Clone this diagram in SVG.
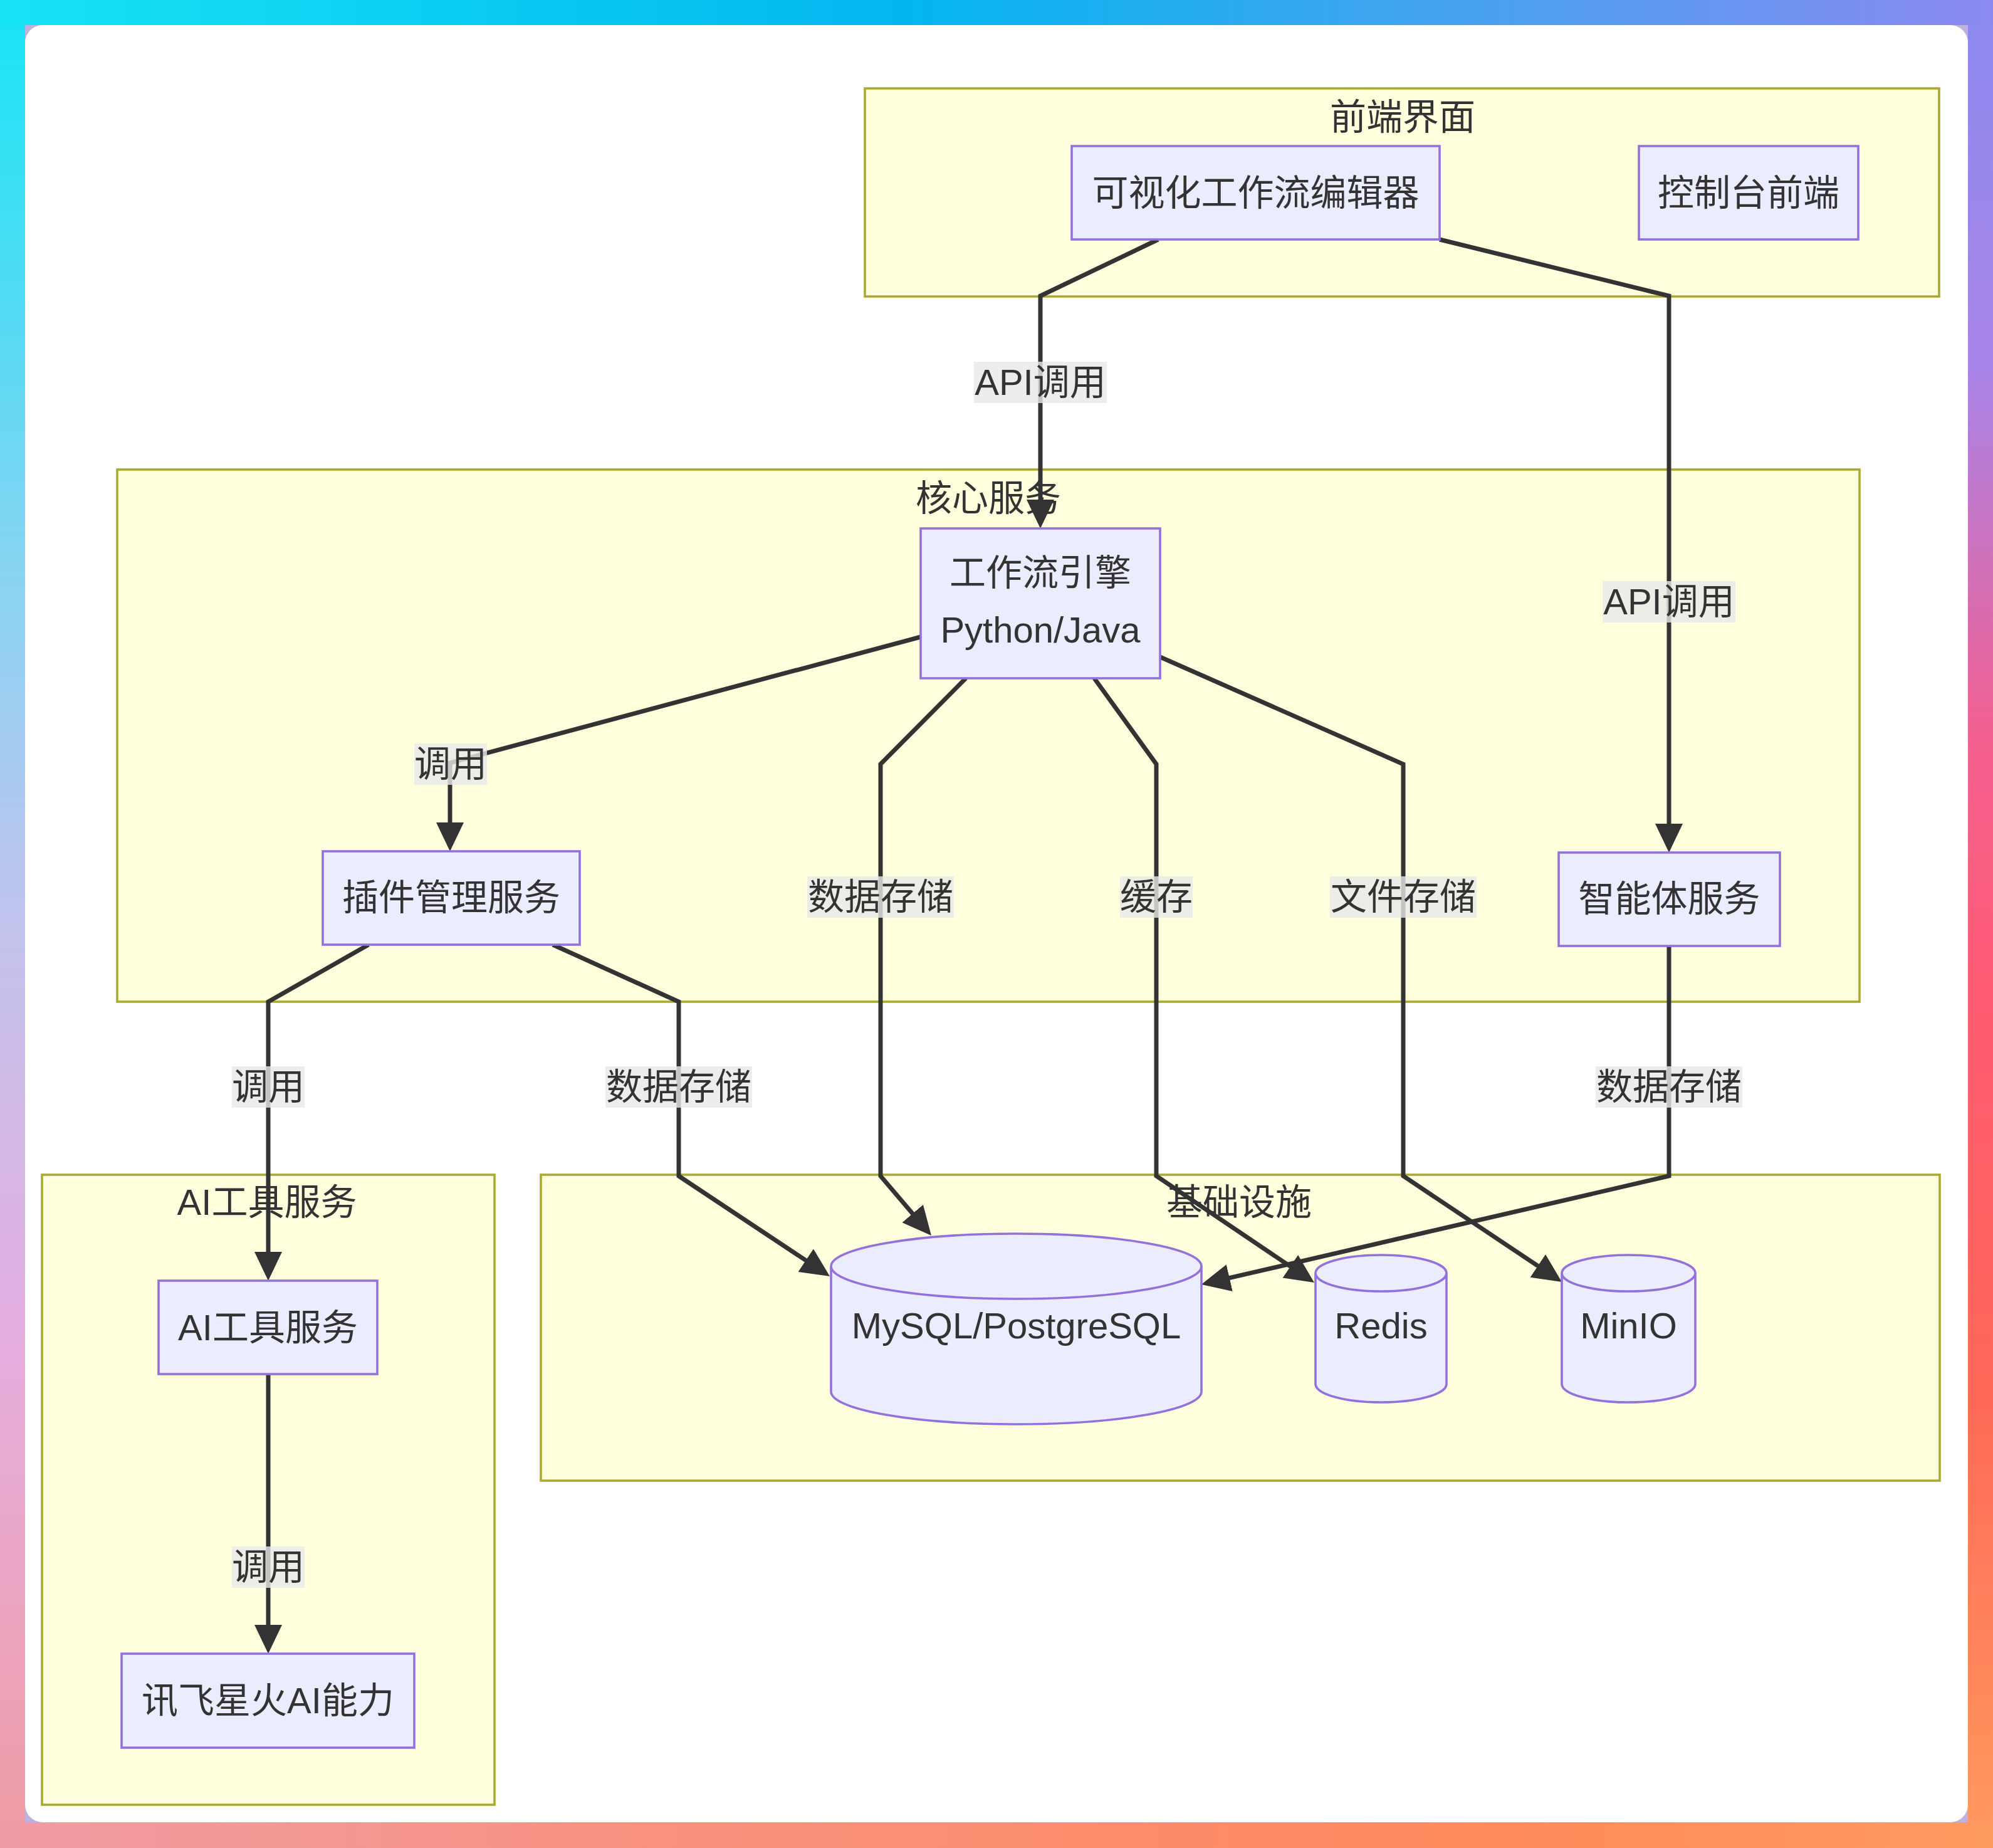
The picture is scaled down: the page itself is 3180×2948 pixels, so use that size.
<svg xmlns="http://www.w3.org/2000/svg" width="3180" height="2948" viewBox="0 0 3180 2948">
<style>
.t{font-family:"Liberation Sans","Noto Sans CJK SC",sans-serif;font-size:58px;fill:#333;text-anchor:middle}
.cl{fill:#ffffde;stroke:#aaaa33;stroke-width:3.6}
.nd{fill:#ececff;stroke:#9370db;stroke-width:3.6}
.ed{fill:none;stroke:#333;stroke-width:7;stroke-linejoin:miter;marker-end:url(#arrow)}
.lb{fill:#e8e8e8;fill-opacity:0.8}
</style>
<defs>
<marker id="arrow" markerUnits="userSpaceOnUse" markerWidth="46" markerHeight="44" refX="36" refY="22" orient="auto">
<path d="M0,0 L46,22 L0,44 z" fill="#333"/>
</marker>
<linearGradient id="gTop" x1="0" y1="0" x2="1" y2="0">
<stop offset="0" stop-color="#16e4f5"/><stop offset="0.45" stop-color="#02b6ef"/><stop offset="0.75" stop-color="#4aa0f0"/><stop offset="1" stop-color="#8c8af0"/>
</linearGradient>
<linearGradient id="gRight" x1="0" y1="0" x2="0" y2="1">
<stop offset="0" stop-color="#8c8af0"/><stop offset="0.2" stop-color="#a884e8"/><stop offset="0.4" stop-color="#f46090"/><stop offset="0.55" stop-color="#ff5a70"/><stop offset="0.75" stop-color="#ff6858"/><stop offset="1" stop-color="#ff9a5e"/>
</linearGradient>
<linearGradient id="gBottom" x1="0" y1="0" x2="1" y2="0">
<stop offset="0" stop-color="#f09ca4"/><stop offset="0.35" stop-color="#f8907c"/><stop offset="0.75" stop-color="#ff8a5c"/><stop offset="1" stop-color="#ff9a5e"/>
</linearGradient>
<linearGradient id="gLeft" x1="0" y1="0" x2="0" y2="1">
<stop offset="0" stop-color="#16e4f5"/><stop offset="0.3" stop-color="#84d4f2"/><stop offset="0.5" stop-color="#c2c4ee"/><stop offset="0.72" stop-color="#e4aee0"/><stop offset="1" stop-color="#f09ca4"/>
</linearGradient>
</defs>

<g id="background">
<rect x="0" y="0" width="3180" height="2948" fill="#c0b0e0"/>
<rect x="0" y="0" width="40" height="2948" fill="url(#gLeft)"/>
<rect x="3140" y="0" width="40" height="2948" fill="url(#gRight)"/>
<rect x="0" y="0" width="3180" height="40" fill="url(#gTop)"/>
<rect x="0" y="2907" width="3180" height="41" fill="url(#gBottom)"/>
<rect x="40" y="40" width="3100" height="2867" rx="28" ry="28" fill="#ffffff"/>
</g>

<g id="clusters">
<g id="cluster-frontend">
<rect class="cl" x="1380" y="141" width="1714" height="332"/>
<text class="t" x="2238" y="207">前端界面</text>
</g>
<g id="cluster-core">
<rect class="cl" x="187" y="749" width="2780" height="849"/>
<text class="t" x="1577" y="815">核心服务</text>
</g>
<g id="cluster-aitools">
<rect class="cl" x="67" y="1874" width="722" height="1005"/>
<text class="t" x="426" y="1938">AI工具服务</text>
</g>
<g id="cluster-infra">
<rect class="cl" x="863" y="1874" width="2232" height="488"/>
<text class="t" x="1977" y="1938">基础设施</text>
</g>
</g>

<g id="edges">
<polyline class="ed" points="1848,382 1660,472 1660,833"/>
<polyline class="ed" points="2297,382 2663,472 2663,1350"/>
<polyline class="ed" points="1469,1016 718,1217 718,1348"/>
<polyline class="ed" points="1541,1082 1405,1219 1405,1876 1479.5,1963.4"/>
<polyline class="ed" points="1746,1082 1845,1219 1845,1876 2088.7,2040.4"/>
<polyline class="ed" points="1851,1048 2239,1219 2239,1876 2483.7,2039.4"/>
<polyline class="ed" points="588,1507 428,1598 428,2033"/>
<polyline class="ed" points="882,1507 1083,1598 1083,1876 1315.7,2030.5"/>
<polyline class="ed" points="2663,1510 2663,1876 1926.7,2046.7"/>
<polyline class="ed" points="428,2192 428,2628"/>
</g>

<g id="edge-labels">
<g><rect class="lb" x="1554" y="577" width="212" height="66"/><text class="t" x="1660" y="630">API调用</text></g>
<g><rect class="lb" x="2557" y="927" width="212" height="66"/><text class="t" x="2663" y="980">API调用</text></g>
<g><rect class="lb" x="661" y="1186" width="116" height="66"/><text class="t" x="719" y="1239">调用</text></g>
<g><rect class="lb" x="1288" y="1398" width="234" height="66"/><text class="t" x="1405" y="1451">数据存储</text></g>
<g><rect class="lb" x="1787" y="1398" width="116" height="66"/><text class="t" x="1845" y="1451">缓存</text></g>
<g><rect class="lb" x="2122" y="1398" width="234" height="66"/><text class="t" x="2239" y="1451">文件存储</text></g>
<g><rect class="lb" x="370" y="1701" width="116" height="66"/><text class="t" x="428" y="1754">调用</text></g>
<g><rect class="lb" x="966" y="1701" width="234" height="66"/><text class="t" x="1083" y="1754">数据存储</text></g>
<g><rect class="lb" x="2546" y="1701" width="234" height="66"/><text class="t" x="2663" y="1754">数据存储</text></g>
<g><rect class="lb" x="370" y="2467" width="116" height="66"/><text class="t" x="428" y="2520">调用</text></g>
</g>

<g id="nodes">
<g id="node-editor"><rect class="nd" x="1710" y="233" width="587" height="149"/><text class="t" x="2003.5" y="328">可视化工作流编辑器</text></g>
<g id="node-console"><rect class="nd" x="2615" y="233" width="350" height="149"/><text class="t" x="2790" y="328">控制台前端</text></g>
<g id="node-engine"><rect class="nd" x="1469" y="843" width="382" height="239"/><text class="t" x="1660" y="934">工作流引擎</text><text class="t" x="1660" y="1025">Python/Java</text></g>
<g id="node-plugin"><rect class="nd" x="515" y="1358" width="410" height="149"/><text class="t" x="720" y="1452">插件管理服务</text></g>
<g id="node-agent"><rect class="nd" x="2487" y="1360" width="353" height="149"/><text class="t" x="2663.5" y="1454">智能体服务</text></g>
<g id="node-aitool"><rect class="nd" x="253" y="2043" width="349" height="149"/><text class="t" x="427.5" y="2138">AI工具服务</text></g>
<g id="node-spark"><rect class="nd" x="194" y="2638" width="467" height="150"/><text class="t" x="427.5" y="2733">讯飞星火AI能力</text></g>
<g id="node-db"><path class="nd" d="M1326,2020 a295.5,52 0 0 0 591,0 a295.5,52 0 0 0 -591,0 l0,200 a295.5,52 0 0 0 591,0 l0,-200"/><text class="t" x="1621.5" y="2135">MySQL/PostgreSQL</text></g>
<g id="node-redis"><path class="nd" d="M2099,2031 a104.5,29 0 0 0 209,0 a104.5,29 0 0 0 -209,0 l0,177 a104.5,29 0 0 0 209,0 l0,-177"/><text class="t" x="2203.5" y="2135">Redis</text></g>
<g id="node-minio"><path class="nd" d="M2492,2031 a106.5,29 0 0 0 213,0 a106.5,29 0 0 0 -213,0 l0,177 a106.5,29 0 0 0 213,0 l0,-177"/><text class="t" x="2598.5" y="2135">MinIO</text></g>
</g>
</svg>
